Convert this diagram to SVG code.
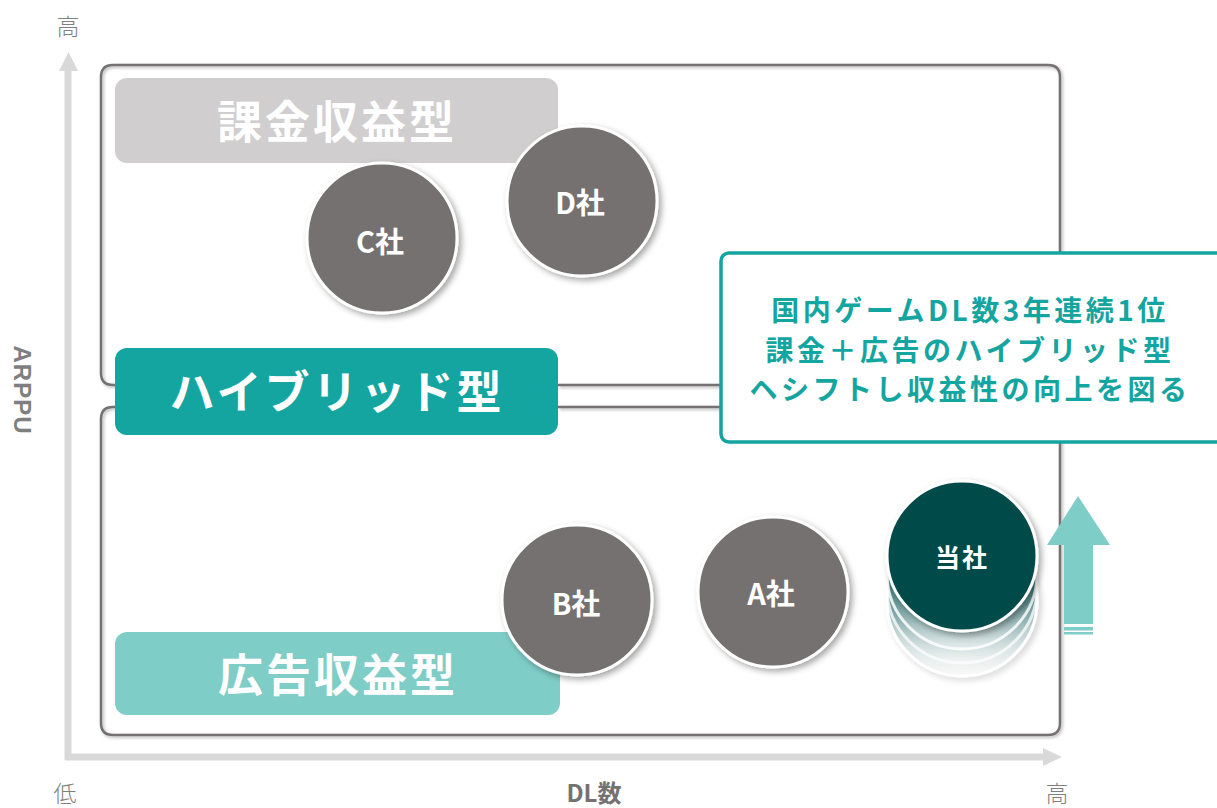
<svg xmlns="http://www.w3.org/2000/svg" width="1217" height="808" viewBox="0 0 1217 808">
<style>
.frame{fill:none;stroke:#757171;stroke-width:2.5}
.axis{stroke:#d9d9d9;stroke-width:7;fill:none}
.axhead{fill:#d9d9d9}
.cat{font-family:"Noto Sans CJK JP","Noto Sans",sans-serif;font-weight:700;font-size:45px;fill:#ffffff;text-anchor:middle;dominant-baseline:central;letter-spacing:3px}
.co{fill:#757171;stroke:#ffffff;stroke-width:3}
.ct{font-family:"Noto Sans CJK JP","Liberation Sans",sans-serif;font-weight:700;font-size:29px;fill:#ffffff;text-anchor:middle;dominant-baseline:central}
.lbl{font-family:"Noto Sans CJK JP",sans-serif;font-weight:300;font-size:23px;fill:#7f7f7f;text-anchor:middle;dominant-baseline:central}
.call{font-family:"Noto Sans CJK JP","Noto Sans",sans-serif;font-weight:700;font-size:28px;fill:#14a5a0;text-anchor:middle;dominant-baseline:central;letter-spacing:3.5px}
</style>
<defs>
<filter id="sh" x="-20%" y="-20%" width="150%" height="150%">
<feDropShadow dx="3" dy="3" stdDeviation="3" flood-color="#000" flood-opacity="0.35"/>
</filter>
<filter id="fsh" x="-5%" y="-5%" width="110%" height="110%">
<feDropShadow dx="1.5" dy="1.5" stdDeviation="1.5" flood-color="#000" flood-opacity="0.3"/>
</filter>
<linearGradient id="stk" x1="0" y1="0" x2="0" y2="1">
<stop offset="0" stop-color="#034b4a" stop-opacity="1"/>
<stop offset="0.6" stop-color="#3d7a79" stop-opacity="0.8"/>
<stop offset="1" stop-color="#ffffff" stop-opacity="0.4"/>
</linearGradient>
</defs>

<g id="axes">
<line class="axis" x1="68" y1="760" x2="68" y2="70"/>
<polygon class="axhead" points="59,71 68.5,52 78,71"/>
<line class="axis" x1="65" y1="757" x2="1045" y2="757"/>
<polygon class="axhead" points="1043,748 1062,757 1043,766"/>
<text class="lbl" x="68" y="25">高</text>
<text class="lbl" x="65" y="792">低</text>
<text class="lbl" x="1057" y="792">高</text>
<text class="lbl" x="594" y="791" style="font-weight:700;font-size:24px;fill:#757171">DL数</text>
<text class="lbl" transform="translate(22,390) rotate(90)" style="font-family:'Liberation Sans',Arial,sans-serif;font-weight:700;font-size:24px;letter-spacing:1px;fill:#7f7f7f">ARPPU</text>
</g>

<g id="connectors" filter="url(#fsh)">
<path class="frame" d="M115,385 L113,385 Q101,385 101,373 L101,77 Q101,65 113,65 L1048,65 Q1060,65 1060,77 L1060,385 L558,385"/>
<path class="frame" d="M558,407 L1060,407 L1060,723 Q1060,735 1048,735 L113,735 Q101,735 101,723 L101,419 Q101,407 113,407 L115,407"/>
</g>

<g id="cat-kakin">
<rect x="115" y="78" width="443" height="85" rx="12" fill="#d0cece"/>
<text class="cat" x="337" y="119">課金収益型</text>
</g>
<g id="cat-hybrid">
<rect x="115" y="348" width="443" height="87" rx="12" fill="#14a5a0"/>
<text class="cat" x="337" y="389">ハイブリッド型</text>
</g>
<g id="cat-koukoku">
<rect x="115" y="632" width="445" height="83" rx="12" fill="#7fcdc7"/>
<text class="cat" x="338" y="672">広告収益型</text>
</g>

<g id="company-c">
<circle class="co" cx="382" cy="238" r="75" filter="url(#sh)"/>
<text class="ct" x="380" y="240">C社</text>
</g>
<g id="company-d">
<circle class="co" cx="582" cy="201" r="75" filter="url(#sh)"/>
<text class="ct" x="580" y="201">D社</text>
</g>
<g id="company-b">
<circle class="co" cx="577" cy="600" r="75" filter="url(#sh)"/>
<text class="ct" x="576" y="602">B社</text>
</g>
<g id="company-a">
<circle class="co" cx="773" cy="592" r="75" filter="url(#sh)"/>
<text class="ct" x="771" y="592">A社</text>
</g>

<g id="company-self">
<circle cx="962" cy="601" r="75" fill="url(#stk)" stroke="#ffffff" stroke-width="3" filter="url(#sh)" opacity="0.55"/>
<circle cx="962" cy="588" r="75" fill="url(#stk)" stroke="#ffffff" stroke-width="3" opacity="0.7"/>
<circle cx="962" cy="574" r="75" fill="url(#stk)" stroke="#ffffff" stroke-width="3" opacity="0.85"/>
<circle cx="962" cy="556" r="75" fill="#034b4a" stroke="#ffffff" stroke-width="3" filter="url(#sh)"/>
<text class="ct" x="962" y="556" style="font-size:25px;letter-spacing:2px">当社</text>
</g>

<g id="up-arrow">
<polygon points="1047,545 1078,496 1110,545" fill="#7fcdc7"/>
<rect x="1064" y="544" width="29" height="80" fill="#7fcdc7"/>
<rect x="1064" y="627" width="29" height="3.5" fill="#7fcdc7"/>
<rect x="1064" y="632" width="29" height="2.5" fill="#7fcdc7"/>
</g>

<g id="callout">
<rect x="721" y="253" width="510" height="189" rx="8" fill="#ffffff" stroke="#14a5a0" stroke-width="3.5"/>
<text class="call" x="970" y="309">国内ゲームDL数3年連続1位</text>
<text class="call" x="970" y="349">課金＋広告のハイブリッド型</text>
<text class="call" x="970" y="388">ヘシフトし収益性の向上を図る</text>
</g>
</svg>
